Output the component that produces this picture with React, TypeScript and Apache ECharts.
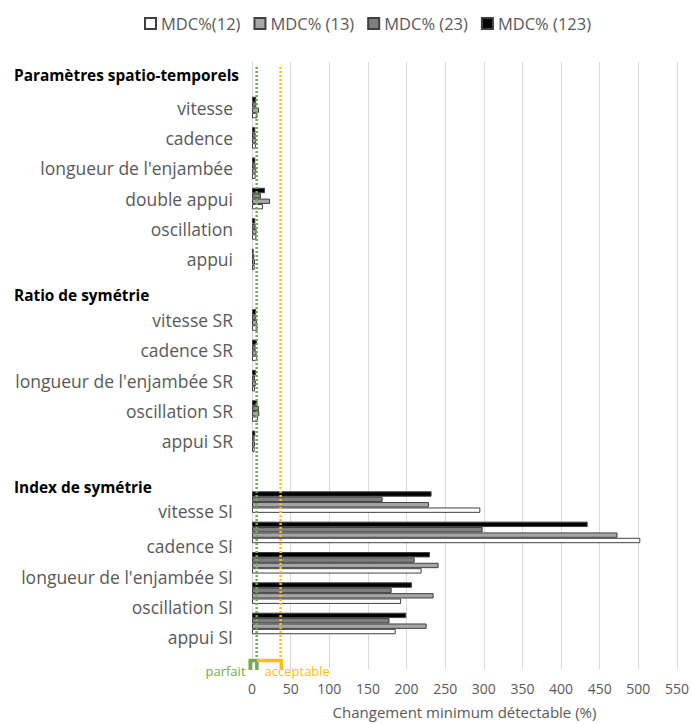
import { useEffect, useRef } from 'react';
import * as echarts from 'echarts';

const categories = [
  '', 'vitesse', 'cadence', "longueur de l'enjambée", 'double appui', 'oscillation', 'appui',
  '', 'vitesse SR', 'cadence SR', "longueur de l'enjambée SR", 'oscillation SR', 'appui SR',
  '', 'vitesse SI', 'cadence SI', "longueur de l'enjambée SI", 'oscillation SI', 'appui SI', '',
];

const seriesNames = ['MDC%(12)', 'MDC% (13)', 'MDC% (23)', 'MDC% (123)'];

const mdc12 = [null, 7, 5, 4.7, 14.2, 5.6, 3.4, null, 7.3, 6.9, 3.9, 7.8, 3.4, null, 295.5, 502.5, 219.5, 193, 186, null];
const mdc13 = [null, 9, 5.6, 5.6, 23.3, 6, 3.9, null, 6.5, 6, 5.2, 9.5, 3.9, null, 229, 473, 241.5, 235, 226, null];
const mdc23 = [null, 5.6, 4.7, 4.7, 11.6, 4.7, 3, null, 5.6, 4.7, 3.9, 9, 3.4, null, 169, 298.5, 210.5, 180.7, 178, null];
const mdc123 = [null, 5.6, 4.3, 4.3, 16.8, 4.3, 2.2, null, 5.6, 6.5, 5.6, 6.9, 4.3, null, 232.4, 434.4, 230.3, 207, 199.7, null];

const xMin = 0;
const xMax = 550;
const xInterval = 50;
const xAxisName = 'Changement minimum détectable (%)';

const parfaitThreshold = 6;
const acceptableThreshold = 37;
const bracketStart = -4.5;
const bracketMid = 8.5;
const bracketEnd = 40;
const bracketLabels = ['parfait', 'acceptable'];

const sectionHeaders = ['Paramètres spatio-temporels', 'Ratio de symétrie', 'Index de symétrie'];

const FONT = 'Open Sans';
const GREEN = '#70AD47';
const ORANGE = '#FFC000';
const GRAY_TEXT = '#595959';

export default function App() {
  const ref = useRef<HTMLDivElement>(null);
  useEffect(() => {
    document.body.style.margin = '0';
    const chart = echarts.init(ref.current!, null, { renderer: 'svg' });
    const grid = { left: 252, top: 62, width: 425, height: 607 };
    const colors = ['#FFFFFF', '#A6A6A6', '#7F7F7F', '#000000'];
    const datas = [mdc12, mdc13, mdc23, mdc123];
    const labelFont = 17.5;
    const labelMargin = 19;
    // rows whose labels sit lower than their bars in the reference
    const labelShift: Record<number, number> = { 14: 8.5, 15: 14, 16: 14, 17: 14, 18: 14 };

    const order = [3, 2, 1, 0]; // draw 123 on top, 12 at the bottom of each group

    chart.setOption({
      animation: false,
      textStyle: { fontFamily: FONT },
      legend: {
        data: seriesNames,
        left: 139,
        top: 10,
        icon: 'rect',
        itemWidth: 11,
        itemHeight: 11,
        itemGap: 13,
        textStyle: { fontSize: 16.5, color: GRAY_TEXT, fontFamily: FONT },
      },
      grid: { ...grid, containLabel: false, outerBoundsMode: 'none' },
      xAxis: {
        type: 'value',
        min: xMin,
        max: xMax,
        interval: xInterval,
        name: xAxisName,
        nameLocation: 'middle',
        nameGap: 35,
        nameTextStyle: { fontSize: 15, color: GRAY_TEXT, fontFamily: FONT },
        axisLine: { show: false },
        axisTick: { show: false },
        axisLabel: { fontSize: 14, color: GRAY_TEXT, margin: 12, fontFamily: FONT },
        splitLine: { lineStyle: { color: '#D9D9D9', width: 1 } },
      },
      yAxis: {
        type: 'category',
        inverse: true,
        data: categories,
        axisLine: { show: true, lineStyle: { color: '#D9D9D9', width: 1 } },
        axisTick: { show: false },
        axisLabel: {
          fontSize: labelFont,
          color: GRAY_TEXT,
          margin: labelMargin,
          fontFamily: FONT,
          interval: 0,
          formatter: (value: string, index: number) => (labelShift[index] !== undefined ? '' : value),
        },
      },
      series: order.map((i) => ({
        name: seriesNames[i],
        type: 'bar',
        data: datas[i],
        barGap: '0%',
        barCategoryGap: '29%',
        itemStyle: { color: colors[i], borderColor: '#404040', borderWidth: 1 },
      })),
    });

    const px = (v: number) => chart.convertToPixel({ xAxisIndex: 0 }, v) as number;
    const py = (idx: number) => chart.convertToPixel({ yAxisIndex: 0 }, idx) as number;
    const bottom = grid.top + grid.height;
    const bracketTop = bottom - 10;
    const graphics: any[] = [
      {
        type: 'line',
        shape: { x1: px(parfaitThreshold), y1: grid.top + 5, x2: px(parfaitThreshold), y2: bracketTop },
        style: { stroke: GREEN, lineWidth: 2.5, lineDash: [2, 2] },
        z: 10,
      },
      {
        type: 'line',
        shape: { x1: px(acceptableThreshold), y1: grid.top + 5, x2: px(acceptableThreshold), y2: bracketTop },
        style: { stroke: ORANGE, lineWidth: 2.5, lineDash: [2, 2] },
        z: 10,
      },
      {
        type: 'polyline',
        shape: {
          points: [
            [px(bracketStart) + 1.7, bottom + 1],
            [px(bracketStart) + 1.7, bracketTop + 1.5],
            [px(bracketMid) - 1.7, bracketTop + 1.5],
            [px(bracketMid) - 1.7, bottom + 1],
          ],
        },
        style: { stroke: GREEN, lineWidth: 3.5, fill: null },
        z: 11,
      },
      {
        type: 'polyline',
        shape: {
          points: [
            [px(bracketMid) - 1.7, bracketTop + 1.5],
            [px(bracketEnd) - 1.7, bracketTop + 1.5],
            [px(bracketEnd) - 1.7, bottom + 1],
          ],
        },
        style: { stroke: ORANGE, lineWidth: 3.5, fill: null },
        z: 11,
      },
      {
        type: 'text',
        x: px(bracketStart) - 3,
        y: bottom + 2,
        style: { text: bracketLabels[0], fill: GREEN, fontSize: 13, fontFamily: FONT, align: 'right', verticalAlign: 'middle' },
        z: 12,
      },
      {
        type: 'text',
        x: px(bracketMid) + 6,
        y: bottom + 2,
        style: { text: bracketLabels[1], fill: ORANGE, fontSize: 13, fontFamily: FONT, align: 'left', verticalAlign: 'middle' },
        z: 12,
      },
    ];
    Object.keys(labelShift).forEach((k) => {
      const idx = +k;
      graphics.push({
        type: 'text',
        x: grid.left - labelMargin,
        y: py(idx) + labelShift[idx],
        style: { text: categories[idx], fill: GRAY_TEXT, fontSize: labelFont, fontFamily: FONT, align: 'right', verticalAlign: 'middle' },
      });
    });
    const headerY = [75, 295, 487];
    sectionHeaders.forEach((h, i) => {
      graphics.push({
        type: 'text',
        x: 14,
        y: headerY[i],
        style: { text: h, fill: '#000000', fontSize: 15.4, fontWeight: 'bold', fontFamily: FONT, verticalAlign: 'middle' },
      });
    });
    chart.setOption({ graphic: graphics });

    return () => chart.dispose();
  }, []);
  return <div ref={ref} style={{ width: 691, height: 724 }} />;
}
